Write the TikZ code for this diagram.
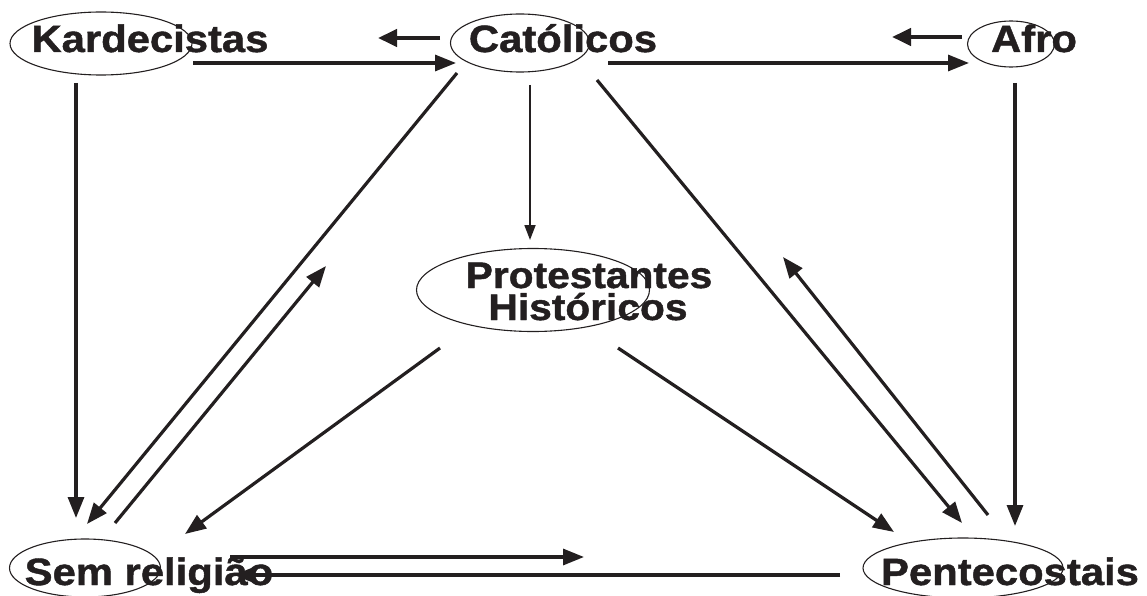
\documentclass[tikz,border=0pt]{standalone}
\usepackage{fontspec}
\setmainfont[FakeStretch=1.1,FakeBold=1.2]{Liberation Sans}
\usetikzlibrary{arrows.meta,shapes.geometric}
\definecolor{ink}{HTML}{231F20}
\begin{document}
\begin{tikzpicture}[x=1pt,y=-1pt,
  ell/.style={draw=ink,line width=1.1pt,ellipse,inner sep=0pt},
  lbl/.style={inner sep=0pt,anchor=base,text=ink,font=\bfseries\fontsize{38}{38}\selectfont},
  arr/.style={draw=ink,line width=3.2pt,-{Triangle[length=21pt,width=16pt]}},
  thin/.style={draw=ink,line width=1.8pt,-{Triangle[length=15pt,width=11pt]}},
  short/.style={draw=ink,line width=4.5pt,-{Triangle[length=19pt,width=17pt]}}]
\useasboundingbox (0,0) rectangle (1147,596);
% ellipses
\node[ell,minimum width=182pt,minimum height=63pt] (kard) at (101,43.5) {};
\node[ell,minimum width=139pt,minimum height=58pt] (cat) at (520,43) {};
\node[ell,minimum width=87pt,minimum height=46pt] (afro) at (1011,44) {};
\node[ell,minimum width=233pt,minimum height=83pt] (prot) at (533,290) {};
\node[ell,minimum width=151pt,minimum height=58pt] (sem) at (85,568) {};
\node[ell,minimum width=200pt,minimum height=60pt] (pent) at (963,568) {};
% labels
\node[lbl] (tkard) at (150,52) {Kardecistas};
\node[lbl] (tcat) at (563,52) {Católicos};
\node[lbl] (tafro) at (1034,52) {Afro};
\node[lbl,font=\bfseries\fontsize{37}{37}\selectfont] (tprot1) at (589,288) {Protestantes};
\node[lbl,font=\bfseries\fontsize{37}{37}\selectfont] (tprot2) at (588,320) {Históricos};
\node[lbl] (tsem) at (149,585) {Sem religião};
\node[lbl] (tpent) at (1010,585) {Pentecostais};
% connector end points
\coordinate (c1) at (440,38);  \coordinate (c2) at (378,38);
\coordinate (c3) at (193,63);  \coordinate (c4) at (456,63);
\coordinate (c5) at (962,37);  \coordinate (c6) at (892,37);
\coordinate (c7) at (608,63);  \coordinate (c8) at (969,63);
\coordinate (c9) at (76,83);   \coordinate (c10) at (76,518);
\coordinate (c11) at (530,85); \coordinate (c12) at (530,240);
\coordinate (c13) at (1015,83);\coordinate (c14) at (1015,526);
\coordinate (c15) at (457,73); \coordinate (c16) at (87,524);
\coordinate (c17) at (115,523);\coordinate (c18) at (326,266);
\coordinate (c19) at (597,80); \coordinate (c20) at (962,523);
\coordinate (c21) at (988,515);\coordinate (c22) at (783,257);
\coordinate (c23) at (440,348);\coordinate (c24) at (185,534);
\coordinate (c25) at (618,348);\coordinate (c26) at (894,532);
\coordinate (c27) at (230,557);\coordinate (c28) at (584,557);
\coordinate (c29) at (840,575);\coordinate (c30) at (234,575);
% connectors
\draw[short] (c1) -- (c2);
\draw[arr] (c3) -- (c4);
\draw[short] (c5) -- (c6);
\draw[arr] (c7) -- (c8);
\draw[arr] (c9) -- (c10);
\draw[thin] (c11) -- (c12);
\draw[arr] (c13) -- (c14);
\draw[arr] (c15) -- (c16);
\draw[arr] (c17) -- (c18);
\draw[arr] (c19) -- (c20);
\draw[arr] (c21) -- (c22);
\draw[arr] (c23) -- (c24);
\draw[arr] (c25) -- (c26);
\draw[arr] (c27) -- (c28);
\draw[arr] (c29) -- (c30);
\end{tikzpicture}
\end{document}
